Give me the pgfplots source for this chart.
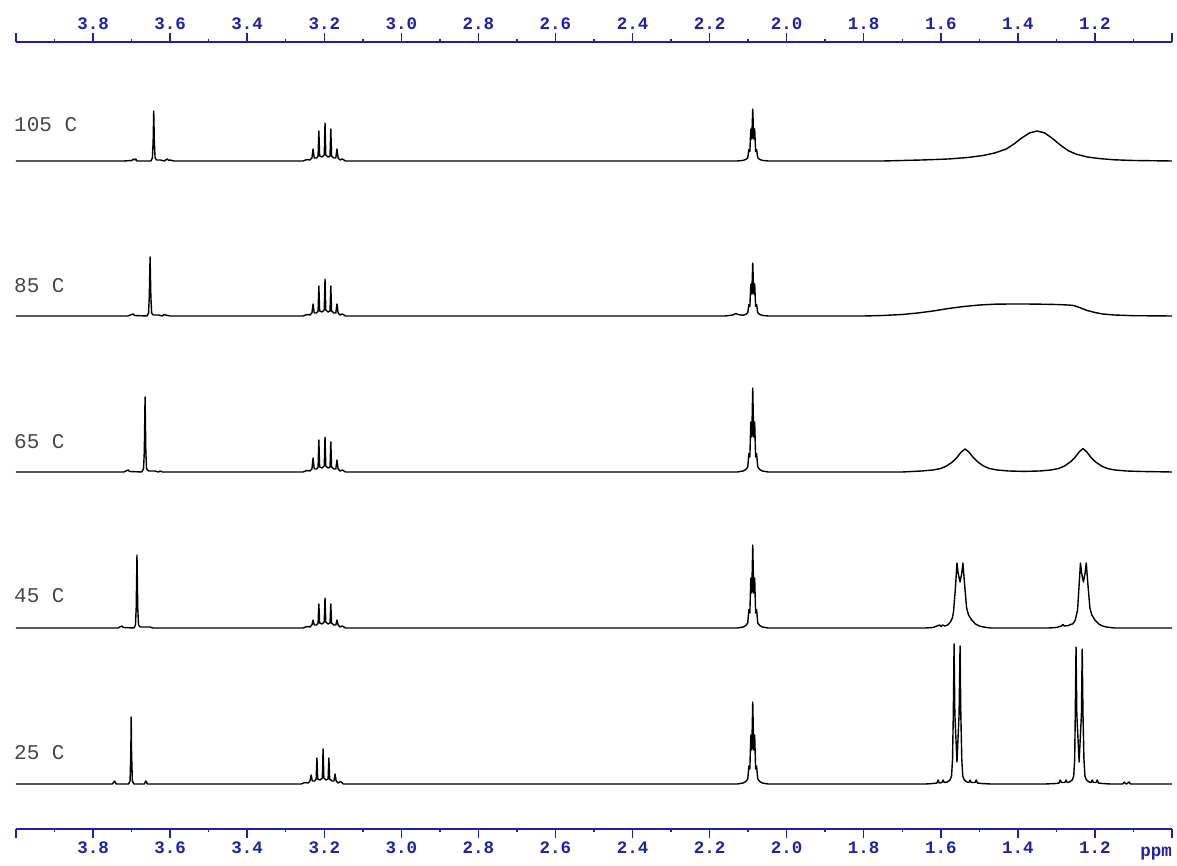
\documentclass[border=0pt]{standalone}
\usepackage{pgfplots}
\pgfplotsset{compat=1.18}
\usepackage{pgfplotstable}
\usepackage{fontspec}
\newfontfamily\monofont{Liberation Mono}
\definecolor{tickblue}{RGB}{32,32,168}
\definecolor{labgray}{RGB}{70,70,70}

% spectra: ppm, height above own baseline (px)
\pgfplotstableread{
ppm h
4.000 0
3.720 0
3.700 0.5
3.694 2
3.692 1
3.689 2
3.686 0
3.650 0
3.646 3
3.644 20
3.6425 50
3.641 20
3.639 3
3.635 1
3.625 1
3.615 0
3.610 1.5
3.607 2
3.604 0.5
3.600 1
3.590 0
3.255 0
3.245 1.5
3.237 1
3.232 3
3.229 12
3.226 3
3.220 3
3.216 5
3.214 30
3.212 5
3.206 4
3.200 6
3.198 38
3.196 6
3.190 4
3.185 5
3.183 32
3.181 5
3.175 3
3.170 3
3.167 12
3.164 3
3.159 1
3.153 2
3.145 0
2.140 0
2.128 0
2.113 0.6
2.106 1.6
2.101 3.2
2.098 11.5
2.0955 9.5
2.093 32
2.0905 22
2.088 52
2.0855 22
2.083 32
2.0805 9.5
2.078 11.5
2.075 3.2
2.070 1.6
2.063 0.6
2.048 0
1.750 0
1.650 1
1.580 2
1.530 3.5
1.490 5.5
1.460 8
1.430 12
1.410 17
1.390 23
1.370 28
1.350 30
1.330 28
1.310 22.5
1.290 16
1.270 10.5
1.250 7
1.220 4
1.190 2.5
1.150 1.2
1.100 0.5
1.000 0
}\tempA

\pgfplotstableread{
ppm h
4.000 0
3.710 0
3.700 1.5
3.696 2
3.692 0.5
3.660 0
3.656 3
3.654 20
3.652 59
3.650 20
3.648 3
3.644 1
3.630 1
3.620 0
3.616 1.5
3.612 1
3.600 0
3.255 0
3.245 1.5
3.237 1
3.232 3
3.229 12
3.226 3
3.220 3
3.216 5
3.214 30
3.212 5
3.206 4
3.200 6
3.198 37
3.196 6
3.190 4
3.185 5
3.183 30
3.181 5
3.175 3
3.170 3
3.167 12
3.164 3
3.159 1
3.153 2
3.145 0
2.160 0
2.140 1
2.132 2.5
2.126 1.5
2.118 1
2.113 0.8
2.106 1.6
2.101 3.2
2.098 11.5
2.0955 9.5
2.093 32
2.0905 22
2.088 53
2.0855 22
2.083 32
2.0805 9.5
2.078 11.5
2.075 3.2
2.070 1.6
2.063 0.6
2.048 0
1.800 0
1.750 0.5
1.700 1.5
1.660 3
1.620 5
1.580 7.5
1.540 9.5
1.500 11
1.460 11.8
1.420 12
1.380 12
1.340 11.8
1.300 11.5
1.270 11
1.255 10.5
1.240 8.5
1.220 5.5
1.200 3.5
1.180 2
1.150 1
1.100 0.3
1.000 0
}\tempB

\pgfplotstableread{
ppm h
4.000 0
3.720 0
3.712 1.5
3.709 2
3.705 0.5
3.674 0
3.669 3
3.667 20
3.665 75
3.663 20
3.661 3
3.656 1
3.640 1
3.630 0
3.626 1
3.620 0
3.255 0
3.245 1.5
3.237 1
3.232 3
3.229 14
3.226 3
3.220 3
3.216 5
3.214 32
3.212 5
3.206 4
3.200 6
3.198 35
3.196 6
3.190 4
3.185 5
3.183 30
3.181 5
3.175 3
3.170 3
3.167 12
3.164 3
3.159 1
3.153 2
3.145 0
2.140 0
2.128 0
2.113 1
2.106 2.5
2.101 5
2.098 18.5
2.0955 15
2.093 50
2.0905 35
2.088 84
2.0855 35
2.083 50
2.0805 15
2.078 18.5
2.075 5
2.070 2.5
2.063 1
2.048 0
1.700 0
1.650 1
1.620 2
1.600 3.5
1.585 6
1.570 10
1.557 15
1.547 20
1.537 23
1.527 20
1.517 15
1.504 10
1.489 6
1.474 3.5
1.454 2
1.424 1
1.384 0.6
1.344 1
1.314 2
1.294 3.5
1.279 6
1.264 10
1.251 15
1.241 20
1.231 23.5
1.221 20
1.211 15
1.198 10
1.183 6
1.168 3.5
1.148 2
1.118 1
1.078 0.5
1.030 0.2
1.000 0
}\tempC

\pgfplotstableread{
ppm h
4.000 0
3.735 0
3.728 1.5
3.725 2
3.721 0.5
3.694 0
3.690 3
3.688 20
3.686 73
3.684 20
3.682 3
3.677 1
3.660 1
3.652 1
3.645 0
3.255 0
3.245 1.5
3.237 1
3.232 3
3.229 8
3.226 3
3.220 3
3.216 5
3.214 24
3.212 5
3.206 4
3.200 6
3.198 30
3.196 6
3.190 4
3.185 5
3.183 24
3.181 5
3.175 3
3.170 3
3.167 8
3.164 3
3.159 1
3.153 2
3.145 0
2.140 0
2.128 0
2.113 1
2.106 2.5
2.101 5
2.098 18.5
2.0955 15
2.093 50
2.0905 35
2.088 83
2.0855 35
2.083 50
2.0805 15
2.078 18.5
2.075 5
2.070 2.5
2.063 1
2.048 0
1.640 0
1.620 0.5
1.603 3
1.600 1.5
1.595 3
1.590 2
1.582 3
1.575 6
1.570 10
1.567 16
1.562 40
1.558 65
1.555 55
1.550 46
1.5455 55
1.5425 65
1.5385 45
1.533 20
1.528 13
1.520 8
1.510 4
1.500 2
1.490 1
1.470 0
1.320 0
1.300 0.5
1.287 2
1.283 3.5
1.279 2
1.268 2.5
1.264 3.5
1.258 4
1.252 7
1.248 13
1.245 18
1.2415 40
1.2375 65
1.2345 55
1.230 46
1.2255 55
1.2225 65
1.2185 45
1.213 20
1.208 13
1.200 8
1.190 4
1.180 2
1.170 1
1.150 0
1.000 0
}\tempD

\pgfplotstableread{
ppm h
4.000 0
3.750 0
3.744 3
3.740 0
3.708 0
3.704 3
3.702 30
3.701 67
3.700 30
3.698 3
3.694 0
3.667 0
3.663 3
3.659 0
3.260 0
3.250 1.5
3.242 1
3.237 3
3.234 9
3.231 3
3.225 3
3.221 5
3.219 26
3.217 5
3.211 4
3.205 6
3.203 35
3.201 6
3.195 4
3.190 5
3.188 26
3.186 5
3.180 3
3.175 3
3.172 10
3.169 3
3.164 1
3.158 2.5
3.150 0
2.140 0
2.128 0
2.113 1
2.106 2.5
2.101 5
2.098 18
2.0955 15
2.093 49
2.0905 34
2.088 82
2.0855 34
2.083 49
2.0805 15
2.078 18
2.075 5
2.070 2.5
2.063 1
2.048 0
1.640 0
1.620 0.5
1.610 1
1.607 4
1.604 1
1.597 1.5
1.594 4
1.591 1.5
1.583 2
1.576 4
1.572 8
1.5695 25
1.5675 70
1.5655 140
1.5635 70
1.558 22
1.5525 70
1.550 138
1.548 70
1.5455 25
1.543 8
1.539 4
1.532 2
1.527 1.5
1.524 4
1.521 1.5
1.511 1.5
1.508 4
1.505 1
1.495 0.5
1.470 0
1.330 0
1.300 0.5
1.293 1
1.290 4
1.287 1.5
1.278 1.5
1.275 4
1.272 1.5
1.266 2
1.259 4
1.255 8
1.2525 25
1.251 70
1.249 137
1.247 70
1.241 22
1.235 70
1.233 135
1.231 70
1.2285 25
1.226 8
1.222 4
1.215 2
1.210 1.5
1.207 4
1.204 1.5
1.197 1.5
1.194 4
1.191 1
1.180 0.5
1.160 0
1.128 0
1.124 2
1.121 0.5
1.118 0
1.111 2
1.108 0
1.000 0
}\tempE

\pgfplotsset{
  nmr/.style={
    at={(16pt,36pt)}, anchor=south west,
    width=1156pt, height=787pt, scale only axis,
    xmin=1.0, xmax=4.0, x dir=reverse,
    ymin=36, ymax=823,
    axis x line=box, axis y line=none,
    x axis line style={tickblue, line width=1.5pt},
    xtick={1.0,1.2,1.4,1.6,1.8,2.0,2.2,2.4,2.6,2.8,3.0,3.2,3.4,3.6,3.8,4.0},
    xticklabels={{},1.2,1.4,1.6,1.8,2.0,2.2,2.4,2.6,2.8,3.0,3.2,3.4,3.6,3.8,{}},
    minor xtick={1.1,1.3,1.5,1.7,1.9,2.1,2.3,2.5,2.7,2.9,3.1,3.3,3.5,3.7,3.9},
    ytick=\empty,
    tick align=outside,
    major tick length=9pt, minor tick length=3pt,
    xtick style={color=tickblue, line width=1.5pt},
    xticklabel style={font=\fontsize{17.5}{20}\selectfont\monofont\bfseries, text=tickblue},
    clip=false,
  },
  spec/.style={black, line width=1.4pt, line join=round, no marks},
}
\tikzset{
  lab/.style={anchor=base west, inner sep=0pt, xshift=-2pt,
    font=\fontsize{21}{24}\selectfont\monofont, text=labgray},
}

\begin{document}
\begin{tikzpicture}
\path[use as bounding box] (0,0) rectangle (1177pt,865pt);
\begin{axis}[nmr]
  \addplot[spec] table[x=ppm, y expr=\thisrow{h}+704] {\tempA};
  \addplot[spec] table[x=ppm, y expr=\thisrow{h}+549] {\tempB};
  \addplot[spec] table[x=ppm, y expr=\thisrow{h}+393] {\tempC};
  \addplot[spec] table[x=ppm, y expr=\thisrow{h}+237] {\tempD};
  \addplot[spec] table[x=ppm, y expr=\thisrow{h}+81] {\tempE};
  \node[lab] at (axis cs:4.0,733) {105 C};
  \node[lab] at (axis cs:4.0,572) {85 C};
  \node[lab] at (axis cs:4.0,416) {65 C};
  \node[lab] at (axis cs:4.0,263) {45 C};
  \node[lab] at (axis cs:4.0,106) {25 C};
  \node[anchor=base, inner sep=0pt, yshift=-27pt, text=tickblue,
    font=\fontsize{17.5}{20}\selectfont\monofont\bfseries] at (axis cs:1.041,36) {ppm};
\end{axis}
\begin{axis}[nmr, xticklabel pos=upper]
\end{axis}
\end{tikzpicture}
\end{document}
